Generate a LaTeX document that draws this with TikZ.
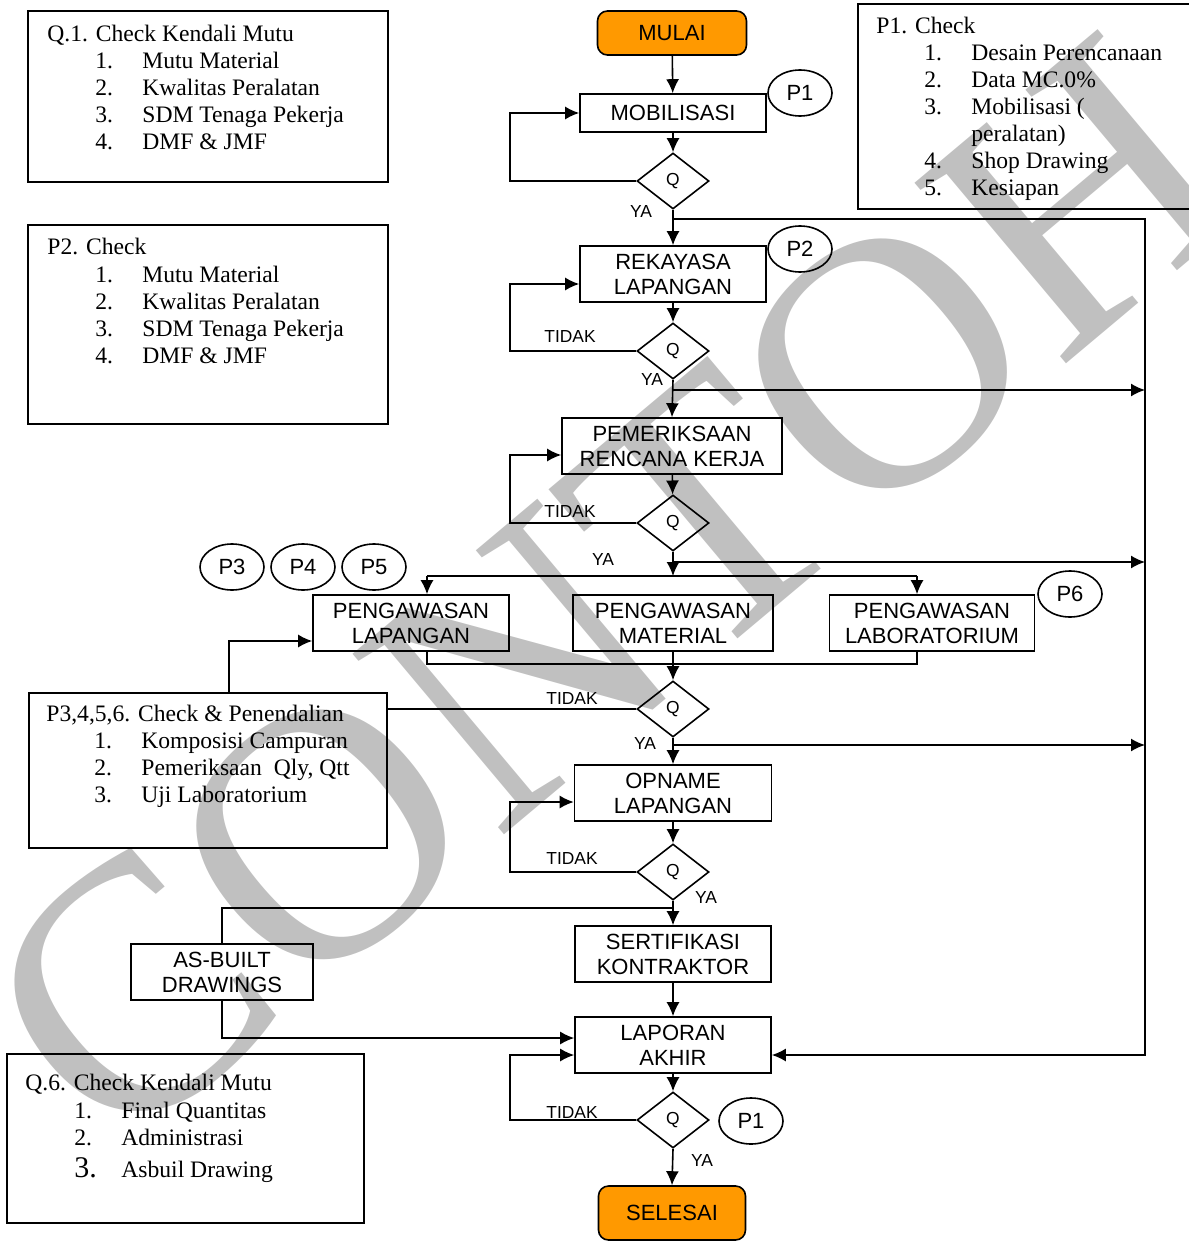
\documentclass[tikz,border=0pt]{standalone}
\usepackage{fontspec}
\setmainfont{Liberation Serif}
\newfontfamily\arial{Liberation Sans}
\usetikzlibrary{arrows.meta,shapes.geometric,positioning,calc}
\definecolor{startorange}{RGB}{255,153,0}
\definecolor{wmgray}{RGB}{192,192,192}
\tikzstyle{task} = [draw,line width=0.8pt,minimum height=28pt,inner sep=0pt,align=center,font=\arial\fontsize{11}{12.5}\selectfont]
\tikzstyle{terminal} = [task,rounded corners=5pt,fill=startorange]
\tikzstyle{decision} = [draw,diamond,line width=0.8pt,minimum width=36pt,minimum height=28pt,inner sep=0pt,font=\arial\fontsize{8.7}{9}\selectfont]
\tikzstyle{pmark} = [draw,ellipse,line width=0.8pt,minimum width=32pt,minimum height=23pt,inner sep=0pt,font=\arial\fontsize{11}{12}\selectfont]
\tikzstyle{lbl} = [inner sep=0pt,font=\arial\fontsize{8.7}{9}\selectfont]
\tikzstyle{notebox} = [draw,line width=0.8pt,inner sep=0pt,anchor=north west]
\tikzstyle{notetext} = [inner sep=0pt,anchor=base west,font=\fontsize{11.8}{13.5}\selectfont]
\tikzstyle{flow} = [line width=0.8pt,-{Latex[length=7pt,width=6.5pt]}]
\tikzstyle{link} = [line width=0.8pt]
\tikzstyle{wmark} = [inner sep=0pt,rotate=40,text=wmgray,font=\fontsize{180}{180}\selectfont]
\newcommand{\numitem}[2]{\makebox[23.5pt][l]{#1}#2}

\begin{document}
\begin{tikzpicture}[x=0.5pt,y=-0.5pt]
		\useasboundingbox (0,0) rectangle (1188,1241);
		% watermark
		\node[wmark] (wm) at (610,593) {CONTOH};

		% main flow
		\node[terminal,minimum width=74.5pt,minimum height=22pt] (mulai) at (672,33) {MULAI};
		\node[task,minimum width=93pt,minimum height=19pt] (mob) at (673,113) {MOBILISASI};
		\node[decision] (d1) at (673,181) {Q};
		\node[task,minimum width=93pt] (rek) at (673,274) {REKAYASA\\LAPANGAN};
		\node[decision] (d2) at (673,351) {Q};
		\node[task,minimum width=110pt] (pem) at (672,446) {PEMERIKSAAN\\RENCANA KERJA};
		\node[decision] (d3) at (673,523) {Q};
		\node[task,minimum width=98pt] (plap) at (411,623) {PENGAWASAN\\LAPANGAN};
		\node[task,minimum width=100pt] (pmat) at (673,623) {PENGAWASAN\\MATERIAL};
		\node[task,minimum width=102.5pt] (plab) at (932,623) {PENGAWASAN\\LABORATORIUM};
		\node[decision] (d4) at (673,709) {Q};
		\node[task,minimum width=98.5pt] (opn) at (673,793) {OPNAME\\LAPANGAN};
		\node[decision] (d5) at (673,872) {Q};
		\node[task,minimum width=98pt] (sert) at (673,954) {SERTIFIKASI\\KONTRAKTOR};
		\node[task,minimum width=91pt] (asb) at (222,972) {AS-BUILT\\DRAWINGS};
		\node[task,minimum width=98pt] (lap) at (673,1045) {LAPORAN\\AKHIR};
		\node[decision] (d6) at (673,1120) {Q};
		\node[terminal,minimum width=73.5pt,minimum height=27pt] (selesai) at (672,1213) {SELESAI};

		% P markers
		\node[pmark] (m1) at (800,93) {P1};
		\node[pmark] (m2) at (800,249) {P2};
		\node[pmark] (m3) at (232,567) {P3};
		\node[pmark] (m4) at (303,567) {P4};
		\node[pmark] (m5) at (374,567) {P5};
		\node[pmark] (m6) at (1070,594) {P6};
		\node[pmark] (m7) at (751,1121) {P1};

		% labels
		\node[lbl] (ya1) at (641,212) {YA};
		\node[lbl] (no2) at (570,337) {TIDAK};
		\node[lbl] (ya2) at (652,380) {YA};
		\node[lbl] (no3) at (570,512) {TIDAK};
		\node[lbl] (ya3) at (603,560) {YA};
		\node[lbl] (no4) at (572,699) {TIDAK};
		\node[lbl] (ya4) at (645,744) {YA};
		\node[lbl] (no5) at (572,859) {TIDAK};
		\node[lbl] (ya5) at (706,898) {YA};
		\node[lbl] (no6) at (572,1113) {TIDAK};
		\node[lbl] (ya6) at (702,1161) {YA};

		% junctions
		\coordinate (j1) at (673,219);
		\coordinate (j2) at (673,390);
		\coordinate (j3) at (673,562);
		\coordinate (j4) at (673,745);
		\coordinate (j5) at (673,908);
		\coordinate (br) at (673,576);
		\coordinate (brL) at (427,576);
		\coordinate (brR) at (917,576);
		\coordinate (rbus) at (1145,1055);

		\draw[flow] (mulai) -- (mob);
		\draw[flow] (mob) -- (d1);
		\draw[flow] (d1.west) -- ++(-126,0) |- (mob.west);
		\draw[flow] (d1.south) -- (rek.north);
		\draw[flow] (j1) -| (rbus) -- (lap.east |- rbus);
		\draw[flow] (rek) -- (d2);
		\draw[flow] (d2.west) -- ++(-126,0) |- ($(rek.west)+(0,10)$);
		\draw[flow] (d2.south) -- (pem.north);
		\draw[flow] (j2) -- (j2 -| rbus);
		\draw[flow] (pem) -- (d3);
		\draw[flow] (d3.west) -- ++(-126,0) |- ($(pem.west)+(0,9)$);
		\draw[flow] (d3.south) -- (br);
		\draw[flow] (j3) -- (j3 -| rbus);
		\draw[link] (brL) -- (brR);
		\draw[flow] (brL) -- (brL |- plap.north);
		\draw[flow] (brR) -- (brR |- plab.north);
		\draw[link] (brL |- plap.south) -- ++(0,12) -| (brR |- plab.south);
		\draw[flow] (pmat) -- (d4);

		% notes on the left
		\node[notebox,minimum width=180pt,minimum height=85.5pt] (q1box) at (27,10) {};
		\node[notetext] (q1head) at (47,42) {Q.1. Check Kendali Mutu};
		\foreach \num/\txt [count=\i] in {1./Mutu Material,2./Kwalitas Peralatan,3./SDM Tenaga Pekerja,4./DMF \& JMF}
			\node[notetext] (q1i\i) at (95,{42+27*\i}) {\numitem{\num}{\txt}};

		\node[notebox,minimum width=180pt,minimum height=99.5pt] (p2box) at (27,224) {};
		\node[notetext] (p2head) at (47,255) {P2. Check};
		\foreach \num/\txt [count=\i] in {1./Mutu Material,2./Kwalitas Peralatan,3./SDM Tenaga Pekerja,4./DMF \& JMF}
			\node[notetext] (p2i\i) at (95,{255+27*\i}) {\numitem{\num}{\txt}};

		\node[notebox,minimum width=179pt,minimum height=77.5pt] (p3box) at (28,692) {};
		\node[notetext] (p3head) at (46,721) {P3,4,5,6. Check \& Penendalian};
		\foreach \num/\txt [count=\i] in {1./Komposisi Campuran,2./{Pemeriksaan\ \ Qly, Qtt},3./Uji Laboratorium}
			\node[notetext] (p3i\i) at (94,{721+27*\i}) {\numitem{\num}{\txt}};

		\node[notebox,minimum width=178.5pt,minimum height=84.5pt] (q6box) at (6,1053) {};
		\node[notetext] (q6head) at (25,1090) {Q.6. Check Kendali Mutu};
		\node[notetext] (q6i1) at (74,1118) {\numitem{1.}{Final Quantitas}};
		\node[notetext] (q6i2) at (74,1145) {\numitem{2.}{Administrasi}};
		\node[notetext] (q6i3) at (74,1177) {\numitem{\fontsize{15}{15}\selectfont 3.}{Asbuil Drawing}};

		% note on the right
		\node[notebox,minimum width=200pt,minimum height=102.5pt] (p1box) at (857,3) {};
		\node[notetext] (p1head) at (876,34) {P1. Check};
		\node[notetext] (p1i1) at (924,61) {\numitem{1.}{Desain Perencanaan}};
		\node[notetext] (p1i2) at (924,88) {\numitem{2.}{Data MC.0\%}};
		\node[notetext] (p1i3) at (924,115) {\numitem{3.}{Mobilisasi (}};
		\node[notetext] (p1i3b) at (924,142) {\numitem{}{peralatan)}};
		\node[notetext] (p1i4) at (924,169) {\numitem{4.}{Shop Drawing}};
		\node[notetext] (p1i5) at (924,196) {\numitem{5.}{Kesiapan}};

		% lower part
		\draw[link] (d4.west) -- (d4.west -| p3box.east);
		\draw[flow] ($(p3box.north)+(21,0)$) |- ($(plap.west)+(0,18)$);
		\draw[flow] (d4.south) -- (opn.north);
		\draw[flow] (j4) -- (j4 -| rbus);
		\draw[flow] (opn) -- (d5);
		\draw[flow] (d5.west) -- ++(-126,0) |- ($(opn.west)+(0,9)$);
		\draw[flow] (d5.south) -- (sert.north);
		\draw[link] (j5) -| (asb.north);
		\draw[flow] (asb.south) |- ($(lap.west)+(0,-7)$);
		\draw[flow] (sert) -- (lap);
		\draw[flow] (lap) -- (d6);
		\draw[flow] (d6.west) -- ++(-126,0) |- ($(lap.west)+(0,10)$);
		\draw[flow] (d6.south) -- (selesai.north);
	\end{tikzpicture}
\end{document}
